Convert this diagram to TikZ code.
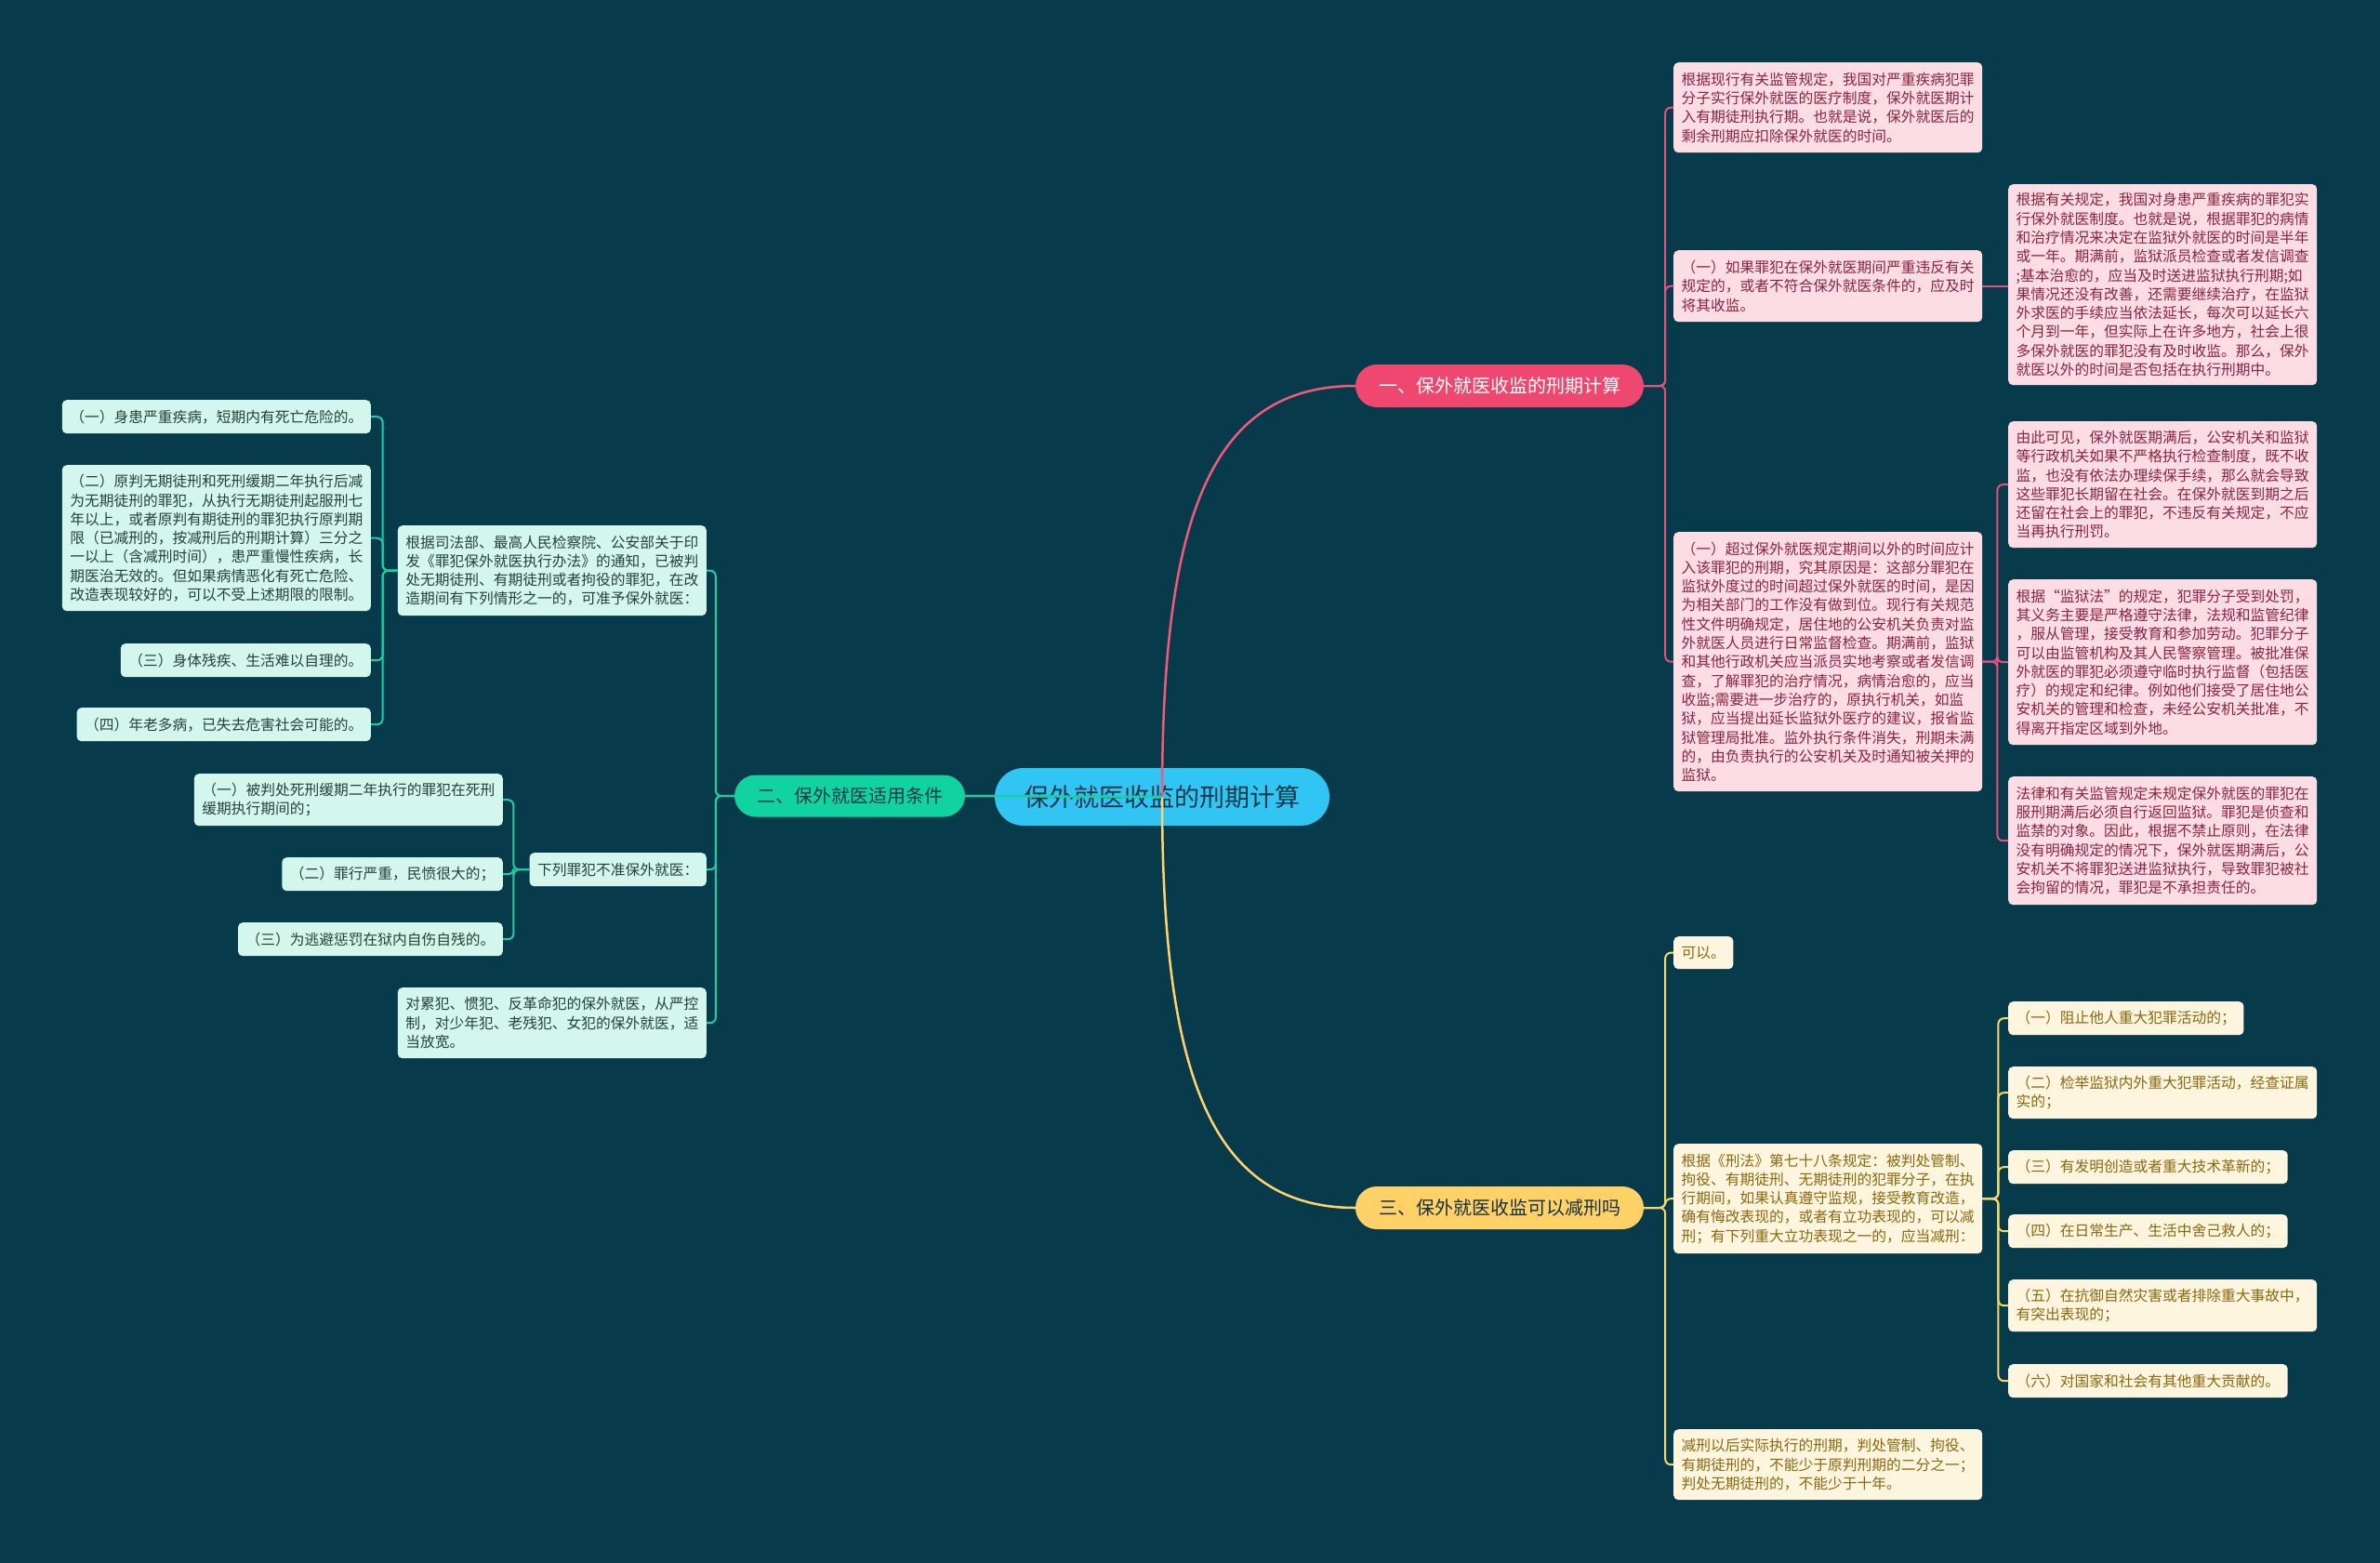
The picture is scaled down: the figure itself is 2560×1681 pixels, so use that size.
\documentclass[tikz,border=0pt]{standalone}
\usepackage{fontspec}
\newfontfamily\cjk{Noto Sans CJK SC}
\definecolor{bg}{HTML}{073B4C}
\definecolor{ctrfill}{HTML}{30C5F3}
\definecolor{ctrtext}{HTML}{17384A}
\definecolor{bpink}{HTML}{EF476F}
\definecolor{bgreen}{HTML}{10D3A0}
\definecolor{byellow}{HTML}{FFD166}
\definecolor{pfill}{HTML}{FDDDE4}
\definecolor{ptext}{HTML}{8A2346}
\definecolor{plinec}{HTML}{E3507B}
\definecolor{yfill}{HTML}{FEF5DE}
\definecolor{ytext}{HTML}{8B6810}
\definecolor{ylinec}{HTML}{F6D86E}
\definecolor{gfill}{HTML}{D3F7EC}
\definecolor{gtext}{HTML}{28403B}
\definecolor{glinec}{HTML}{1CCFA3}
\begin{document}
\begin{tikzpicture}[x=1pt,y=-1pt,
  box/.style={rounded corners=5pt, inner xsep=8.5pt, inner ysep=3pt, align=left,
    font=\cjk\fontsize{15.75pt}{20.3pt}\selectfont},
  pbox/.style={box, fill=pfill, text=ptext, anchor=north west},
  ybox/.style={box, fill=yfill, text=ytext, anchor=north west},
  gbox/.style={box, fill=gfill, text=gtext, anchor=north east},
  wide/.style={text width=315pt},
  branch/.style={rounded corners=23pt, minimum height=46pt, inner xsep=0pt,
    font=\cjk\fontsize{20pt}{24pt}\selectfont},
  pline/.style={draw=plinec, line width=2pt, rounded corners=6pt},
  yline/.style={draw=ylinec, line width=2pt, rounded corners=6pt},
  gline/.style={draw=glinec, line width=2pt, rounded corners=6pt}
]
\fill[bg] (0,0) rectangle (2560,1681);
\useasboundingbox (0,0) rectangle (2560,1681);

% centre
\node[fill=ctrfill, text=ctrtext, rounded corners=31pt, minimum width=360pt, minimum height=62pt,
  font=\cjk\fontsize{27pt}{32pt}\selectfont] (ctr) at (1250,857) {保外就医收监的刑期计算};

% main connectors
\draw[draw=bpink!90!white, line width=2.5pt] (ctr.center) .. controls +(0,-297) and +(-158,0) .. (1458,415) coordinate (b1in);
\draw[draw=byellow!95!white, line width=2.5pt] (ctr.center) .. controls +(0,293) and +(-158,0) .. (1458,1299) coordinate (b3in);
\draw[draw=glinec, line width=2.5pt] (ctr.center) -- (1038,856) coordinate (b2in);

% branches
\node[branch, fill=bpink, text=white, minimum width=310pt] (b1) at (1613,415) {一、保外就医收监的刑期计算};
\node[branch, fill=bgreen, text=ctrtext, minimum width=248pt, minimum height=45pt] (b2) at (914,856) {二、保外就医适用条件};
\node[branch, fill=byellow, text=ctrtext!90!black, minimum width=310pt] (b3) at (1613,1299) {三、保外就医收监可以减刑吗};

% ---------- branch 1 (pink) ----------
\node[pbox, wide, minimum height=97pt] (c1a) at (1800,67) {根据现行有关监管规定，我国对严重疾病犯罪\\分子实行保外就医的医疗制度，保外就医期计\\入有期徒刑执行期。也就是说，保外就医后的\\剩余刑期应扣除保外就医的时间。};
\node[pbox, wide, minimum height=77pt] (c1b) at (1800,269) {（一）如果罪犯在保外就医期间严重违反有关\\规定的，或者不符合保外就医条件的，应及时\\将其收监。};
\node[pbox, wide, minimum height=279pt] (c1c) at (1800,572) {（一）超过保外就医规定期间以外的时间应计\\入该罪犯的刑期，究其原因是：这部分罪犯在\\监狱外度过的时间超过保外就医的时间，是因\\为相关部门的工作没有做到位。现行有关规范\\性文件明确规定，居住地的公安机关负责对监\\外就医人员进行日常监督检查。期满前，监狱\\和其他行政机关应当派员实地考察或者发信调\\查，了解罪犯的治疗情况，病情治愈的，应当\\收监;需要进一步治疗的，原执行机关，如监\\狱，应当提出延长监狱外医疗的建议，报省监\\狱管理局批准。监外执行条件消失，刑期未满\\的，由负责执行的公安机关及时通知被关押的\\监狱。};
\node[pbox, wide, minimum height=216pt] (c1b1) at (2160,198) {根据有关规定，我国对身患严重疾病的罪犯实\\行保外就医制度。也就是说，根据罪犯的病情\\和治疗情况来决定在监狱外就医的时间是半年\\或一年。期满前，监狱派员检查或者发信调查\\;基本治愈的，应当及时送进监狱执行刑期;如\\果情况还没有改善，还需要继续治疗，在监狱\\外求医的手续应当依法延长，每次可以延长六\\个月到一年，但实际上在许多地方，社会上很\\多保外就医的罪犯没有及时收监。那么，保外\\就医以外的时间是否包括在执行刑期中。};
\node[pbox, wide, minimum height=136pt] (c1c1) at (2160,453) {由此可见，保外就医期满后，公安机关和监狱\\等行政机关如果不严格执行检查制度，既不收\\监，也没有依法办理续保手续，那么就会导致\\这些罪犯长期留在社会。在保外就医到期之后\\还留在社会上的罪犯，不违反有关规定，不应\\当再执行刑罚。};
\node[pbox, wide, minimum height=178pt] (c1c2) at (2160,623) {根据“监狱法”的规定，犯罪分子受到处罚，\\其义务主要是严格遵守法律，法规和监管纪律\\，服从管理，接受教育和参加劳动。犯罪分子\\可以由监管机构及其人民警察管理。被批准保\\外就医的罪犯必须遵守临时执行监督（包括医\\疗）的规定和纪律。例如他们接受了居住地公\\安机关的管理和检查，未经公安机关批准，不\\得离开指定区域到外地。};
\node[pbox, wide, minimum height=138pt] (c1c3) at (2160,835) {法律和有关监管规定未规定保外就医的罪犯在\\服刑期满后必须自行返回监狱。罪犯是侦查和\\监禁的对象。因此，根据不禁止原则，在法律\\没有明确规定的情况下，保外就医期满后，公\\安机关不将罪犯送进监狱执行，导致罪犯被社\\会拘留的情况，罪犯是不承担责任的。};

\draw[pline] (b1.east) -- ++(23,0) |- (c1a.west);
\draw[pline] (b1.east) -- ++(23,0) |- (c1b.west);
\draw[pline] (b1.east) -- ++(23,0) |- (c1c.west);
\draw[pline] (c1b.east) -- (c1b1.west |- c1b.east);
\draw[pline] (c1c.east) -- ++(16,0) |- (c1c1.west);
\draw[pline] (c1c.east) -- ++(16,0) |- (c1c2.west);
\draw[pline] (c1c.east) -- ++(16,0) |- (c1c3.west);

% ---------- branch 3 (yellow) ----------
\node[ybox, minimum height=35pt] (c3a) at (1800,1007) {可以。};
\node[ybox, wide, minimum height=118pt] (c3b) at (1800,1230) {根据《刑法》第七十八条规定：被判处管制、\\拘役、有期徒刑、无期徒刑的犯罪分子，在执\\行期间，如果认真遵守监规，接受教育改造，\\确有悔改表现的，或者有立功表现的，可以减\\刑；有下列重大立功表现之一的，应当减刑：};
\node[ybox, wide, minimum height=76pt] (c3c) at (1800,1537) {减刑以后实际执行的刑期，判处管制、拘役、\\有期徒刑的，不能少于原判刑期的二分之一；\\判处无期徒刑的，不能少于十年。};
\node[ybox, minimum height=36pt] (c3b1) at (2160,1077) {（一）阻止他人重大犯罪活动的；};
\node[ybox, wide, minimum height=56pt] (c3b2) at (2160,1147) {（二）检举监狱内外重大犯罪活动，经查证属\\实的；};
\node[ybox, minimum height=36pt] (c3b3) at (2160,1237) {（三）有发明创造或者重大技术革新的；};
\node[ybox, minimum height=36pt] (c3b4) at (2160,1306) {（四）在日常生产、生活中舍己救人的；};
\node[ybox, wide, minimum height=56pt] (c3b5) at (2160,1376) {（五）在抗御自然灾害或者排除重大事故中，\\有突出表现的；};
\node[ybox, minimum height=36pt] (c3b6) at (2160,1467) {（六）对国家和社会有其他重大贡献的。};

\draw[yline] (b3.east) -- ++(23,0) |- (c3a.west);
\draw[yline] (b3.east) -- ++(23,0) |- (c3b.west);
\draw[yline] (b3.east) -- ++(23,0) |- (c3c.west);
\foreach \k in {1,...,6}{\draw[yline] (c3b.east) -- ++(17,0) |- (c3b\k.west);}

% ---------- branch 2 (green) ----------
\node[gbox, wide, minimum height=97pt] (c2a) at (760,565) {根据司法部、最高人民检察院、公安部关于印\\发《罪犯保外就医执行办法》的通知，已被判\\处无期徒刑、有期徒刑或者拘役的罪犯，在改\\造期间有下列情形之一的，可准予保外就医：};
\node[gbox, minimum height=36pt] (c2b) at (760,917) {下列罪犯不准保外就医：};
\node[gbox, wide, minimum height=76pt] (c2c) at (760,1062) {对累犯、惯犯、反革命犯的保外就医，从严控\\制，对少年犯、老残犯、女犯的保外就医，适\\当放宽。};
\node[gbox, minimum height=36pt] (c2a1) at (399,430) {（一）身患严重疾病，短期内有死亡危险的。};
\node[gbox, wide, minimum height=157pt] (c2a2) at (399,500) {（二）原判无期徒刑和死刑缓期二年执行后减\\为无期徒刑的罪犯，从执行无期徒刑起服刑七\\年以上，或者原判有期徒刑的罪犯执行原判期\\限（已减刑的，按减刑后的刑期计算）三分之\\一以上（含减刑时间），患严重慢性疾病，长\\期医治无效的。但如果病情恶化有死亡危险、\\改造表现较好的，可以不受上述期限的限制。};
\node[gbox, minimum height=36pt] (c2a3) at (399,692) {（三）身体残疾、生活难以自理的。};
\node[gbox, minimum height=36pt] (c2a4) at (399,761) {（四）年老多病，已失去危害社会可能的。};
\node[gbox, wide, minimum height=56pt] (c2b1) at (541,832) {（一）被判处死刑缓期二年执行的罪犯在死刑\\缓期执行期间的；};
\node[gbox, minimum height=36pt] (c2b2) at (541,922) {（二）罪行严重，民愤很大的；};
\node[gbox, minimum height=36pt] (c2b3) at (541,992) {（三）为逃避惩罚在狱内自伤自残的。};

\draw[gline] (b2.west) -- ++(-20,0) |- (c2a.east);
\draw[gline] (b2.west) -- ++(-20,0) |- (c2b.east);
\draw[gline] (b2.west) -- ++(-20,0) |- (c2c.east);
\foreach \k in {1,...,4}{\draw[gline] (c2a.west) -- ++(-16,0) |- (c2a\k.east);}
\foreach \k in {1,...,3}{\draw[gline] (c2b.west) -- ++(-17,0) |- (c2b\k.east);}
\end{tikzpicture}
\end{document}
